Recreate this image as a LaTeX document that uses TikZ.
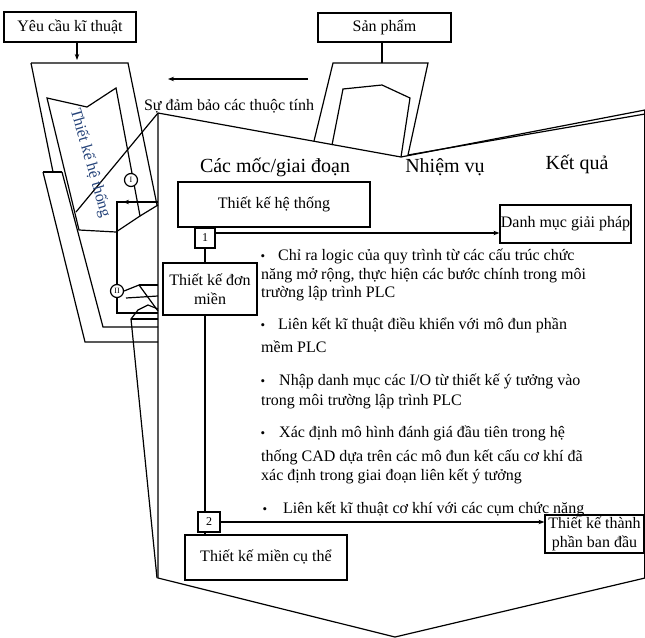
\documentclass[tikz,border=0pt]{standalone}
\usepackage{fontspec}
\setmainfont{Liberation Serif}
\usetikzlibrary{arrows.meta,calc}
\definecolor{navy}{HTML}{26447A}
\newcommand\bul[1]{\makebox[#1][l]{\fontsize{13}{13}\selectfont\textbullet}}
\begin{document}
\begin{tikzpicture}[x=1pt,y=-1pt,
  every node/.style={font=\fontsize{16}{19}\selectfont},
  ln/.style={line width=1.2pt, line join=miter},
  box/.style={draw, line width=1.2pt, inner sep=0pt, align=center, fill=white},
  head/.style={font=\fontsize{20}{24}\selectfont},
  txt/.style={anchor=base west, inner sep=0pt},
  tip/.style={-{Stealth[length=6pt,width=4.5pt]}},
  ring/.style={draw, circle, line width=1.2pt, fill=white, minimum size=13pt,
               inner sep=0pt, font=\fontsize{8}{8}\selectfont}
]
\useasboundingbox (0,0) rectangle (645,637);

% ---- main funnel of the detailed phases ----
\draw[ln] (158,113) -- (158,578) -- (395,637) -- (645,578);
\draw[ln] (158,113) -- (401,157) -- (645,110);
\draw[ln] (408,155) -- (645,114);
\draw[line width=0.6pt] (644,110) -- (644,578);

% ---- left: system design wedge and domain layers ----
\draw[ln] (31,63) -- (128,63) -- (157,205);
\draw[ln] (31,63) -- (53,172);
\draw[ln] (43,172) -- (62,172);
\draw[ln] (62,172) -- (103,327) -- (158,327);
\draw[ln] (43,172) -- (85,342) -- (158,342);

\draw[ln] (47,98) -- (87,107) -- (116,88) -- (140,216) -- (116,232) -- (79,230) -- cycle;
\draw[ln] (140,216) -- (158,205);
\draw[ln] (158,113) -- (76,212);
\node[rotate=-74, text=navy] (sysv) at (90,163) {Thiết kế hệ thống};

\draw[ln] (158,202) -- (117,202) -- (117,313) -- (158,313);
\draw[ln, tip] (136,202) -- (123,202);
\node[ring] (c1) at (131,180) {I};
\node[ring] (c2) at (117,291) {II};

\draw[ln] (c2.east) -- (139,285) -- (158,311);
\draw[ln] (139,285) -- (158,285);
\draw[ln] (126,298) -- (158,296);
\draw[ln] (157,578) -- (131,319) -- (138,310) -- (148,305) -- (158,309);
\draw[ln] (131,319) -- (158,319);

% ---- requirements and product ----
\node[box, minimum width=132pt, minimum height=30pt] (req) at (70,27) {Yêu cầu kĩ thuật};
\coordinate (reqin) at (77,60);
\draw[ln, tip] (req.south -| reqin) -- (reqin);

\node[box, minimum width=133pt, minimum height=29pt] (prod) at (384.5,27.5) {Sản phẩm};
\coordinate (prodin) at (382,63);
\draw[ln] (prod.south -| prodin) -- (prodin);
\draw[ln] (314,141) -- (333,63) -- (428,63) -- (408,155);
\draw[ln] (332,145) -- (343,89) -- (382,85) -- (410,98) -- (401,157);

\coordinate (asrc) at (308,79);
\coordinate (adst) at (168,79);
\draw[ln, tip] (asrc) -- (adst);
\node (assure) at (229,106) {Sự đảm bảo các thuộc tính};

% ---- column headings ----
\node[head] (h1) at (275,167) {Các mốc/giai đoạn};
\node[head] (h2) at (445,167) {Nhiệm vụ};
\node[head] (h3) at (577,164) {Kết quả};

% ---- milestones ----
\node[box, minimum width=192pt, minimum height=45pt] (sys) at (274,204.5) {Thiết kế hệ thống};
\node[box, minimum size=20pt, font=\fontsize{12}{12}\selectfont] (m1) at (205,238) {1};
\node[box, minimum width=131pt, minimum height=38pt] (sol) at (565.5,224) {Danh mục giải pháp};
\coordinate (r1) at (215,233);
\draw[ln, tip] (r1) -- (r1 -| sol.west);

\node[box, minimum width=94pt, minimum height=52pt] (dom) at (210,289) {Thiết kế đơn\\miền};
\draw[ln] (m1.south) -- (m1.south |- dom.north);

\node[box, minimum width=22pt, minimum height=20pt, font=\fontsize{12}{12}\selectfont] (m2) at (209,522) {2};
\draw[ln] (dom.south -| m1) -- (m2.north -| m1);

\node[box, minimum width=99pt, minimum height=38pt] (part) at (594.5,534) {Thiết kế thành\\phần ban đầu};
\draw[ln, tip] (m2.east) -- (m2.east -| part.west);

\node[box, minimum width=162pt, minimum height=45pt] (spec) at (266,557.5) {Thiết kế miền cụ thể};
\draw[ln] (m2.south -| m1) -- (spec.north -| m1);

% ---- tasks ----
\node[txt] (t1a) at (260.5,260) {\bul{17.5pt}Chỉ ra logic của quy trình từ các cấu trúc chức};
\node[txt] (t1b) at (261,279) {năng mở rộng, thực hiện các bước chính trong môi};
\node[txt] (t1c) at (261,297) {trường lập trình PLC};
\node[txt] (t2a) at (260.5,329) {\bul{17.5pt}Liên kết kĩ thuật điều khiển với mô đun phần};
\node[txt] (t2b) at (261,352) {mềm PLC};
\node[txt] (t3a) at (260.5,385) {\bul{18.5pt}Nhập danh mục các I/O từ thiết kế ý tưởng vào};
\node[txt] (t3b) at (261,405) {trong môi trường lập trình PLC};
\node[txt] (t4a) at (260.5,437) {\bul{18.5pt}Xác định mô hình đánh giá đầu tiên trong hệ};
\node[txt] (t4b) at (261,461) {thống CAD dựa trên các mô đun kết cấu cơ khí đã};
\node[txt] (t4c) at (261,480) {xác định trong giai đoạn liên kết ý tưởng};
\node[txt] (t5a) at (262.5,513) {\bul{20.5pt}Liên kết kĩ thuật cơ khí với các cụm chức năng};
\end{tikzpicture}
\end{document}
